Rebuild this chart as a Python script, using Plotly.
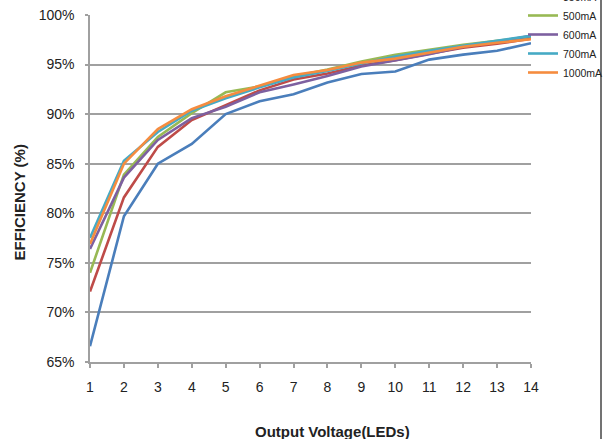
import plotly.graph_objects as go

leds = list(range(1, 15))
tick_labels = [str(v) for v in leds]

series_names = ["300mA", "350mA", "500mA", "600mA", "700mA", "1000mA"]
eff_300 = [66.6, 79.7, 85.0, 87.0, 90.0, 91.3, 92.0, 93.2, 94.05, 94.3, 95.5, 96.0, 96.4, 97.15]
eff_350 = [72.1, 81.6, 86.7, 89.4, 90.9, 92.4, 93.5, 94.1, 94.9, 95.45, 96.1, 96.7, 97.1, 97.6]
eff_500 = [74.0, 83.9, 87.7, 90.1, 92.2, 92.8, 93.8, 94.5, 95.3, 96.0, 96.5, 97.0, 97.4, 97.8]
eff_600 = [76.4, 83.6, 87.4, 89.6, 90.75, 92.2, 93.0, 93.85, 94.8, 95.45, 96.05, 96.8, 97.3, 97.9]
eff_700 = [77.5, 85.3, 88.2, 90.35, 91.6, 92.7, 93.7, 94.35, 95.1, 95.8, 96.4, 96.9, 97.35, 97.9]
eff_1000 = [76.9, 85.0, 88.5, 90.5, 91.8, 92.9, 93.95, 94.45, 95.2, 95.6, 96.2, 96.8, 97.2, 97.55]
series_values = [eff_300, eff_350, eff_500, eff_600, eff_700, eff_1000]
colors = ["#4A7EBB", "#BE4B48", "#98B954", "#7D60A0", "#46AAC5", "#F58C3F"]

y_ticks = [65, 70, 75, 80, 85, 90, 95, 100]
y_tick_labels = [f"{v}%" for v in y_ticks]

FONT = "Arial, Liberation Sans, sans-serif"
GRID = "#A0A0A0"

fig = go.Figure()
for name, vals, col in zip(series_names, series_values, colors):
    fig.add_trace(go.Scatter(x=leds, y=vals, mode="lines", name=name,
                             line=dict(color=col, width=2.6)))

W, H = 610, 439
L, R, T, B = 90, 531, 15, 362
pw, ph = R - L, B - T

fig.update_layout(
    width=W, height=H,
    margin=dict(l=L, r=W - R, t=T, b=H - B, autoexpand=False),
    paper_bgcolor="white", plot_bgcolor="white",
    font=dict(family=FONT, size=14, color="#222222"),
    showlegend=True,
    legend=dict(
        x=(523 - L) / pw, xanchor="left",
        y=1 + (T + 37) / ph, yanchor="top",
        font=dict(family=FONT, size=10.5, color="#222222"),
        bgcolor="rgba(0,0,0,0)", borderwidth=0,
        itemwidth=30, tracegroupgap=0,
    ),
    xaxis=dict(
        range=[1, 14], tickmode="array", tickvals=leds, ticktext=tick_labels,
        showgrid=False, zeroline=False,
        showline=True, linecolor=GRID, linewidth=1.5,
        ticks="outside", ticklen=4, tickcolor=GRID, tickwidth=1.5,
        ticklabelstandoff=7,
        tickfont=dict(family=FONT, size=14, color="#222222"),
    ),
    yaxis=dict(
        range=[65, 100], tickmode="array", tickvals=y_ticks, ticktext=y_tick_labels,
        showgrid=True, gridcolor=GRID, gridwidth=1.5, zeroline=False,
        showline=True, linecolor=GRID, linewidth=1.5,
        ticks="outside", ticklen=3, tickcolor=GRID, tickwidth=1.5,
        ticklabelstandoff=8,
        tickfont=dict(family=FONT, size=14, color="#222222"),
    ),
    annotations=[
        dict(text="<b>Output Voltage(LEDs)</b>", xref="paper", yref="paper",
             x=(332 - L) / pw, y=-(431 - B) / ph, xanchor="center", yanchor="middle",
             showarrow=False, font=dict(family=FONT, size=15, color="#222222")),
        dict(text="<b>EFFICIENCY (%)</b>", xref="paper", yref="paper",
             x=-(L - 19) / pw, y=1 - (202.5 - T) / ph, xanchor="center", yanchor="middle",
             textangle=-90, showarrow=False,
             font=dict(family=FONT, size=15, color="#222222")),
    ],
    shapes=[
        dict(type="line", xref="paper", yref="paper",
             x0=(601 - L) / pw, x1=(601 - L) / pw, y0=-(H - B) / ph - 0.05, y1=1 + T / ph + 0.05,
             line=dict(color="#444444", width=1.5)),
    ],
)

fig.write_html("out.html", config={"displayModeBar": False},
               post_script="document.body.style.margin='0';document.body.style.overflow='hidden';")
